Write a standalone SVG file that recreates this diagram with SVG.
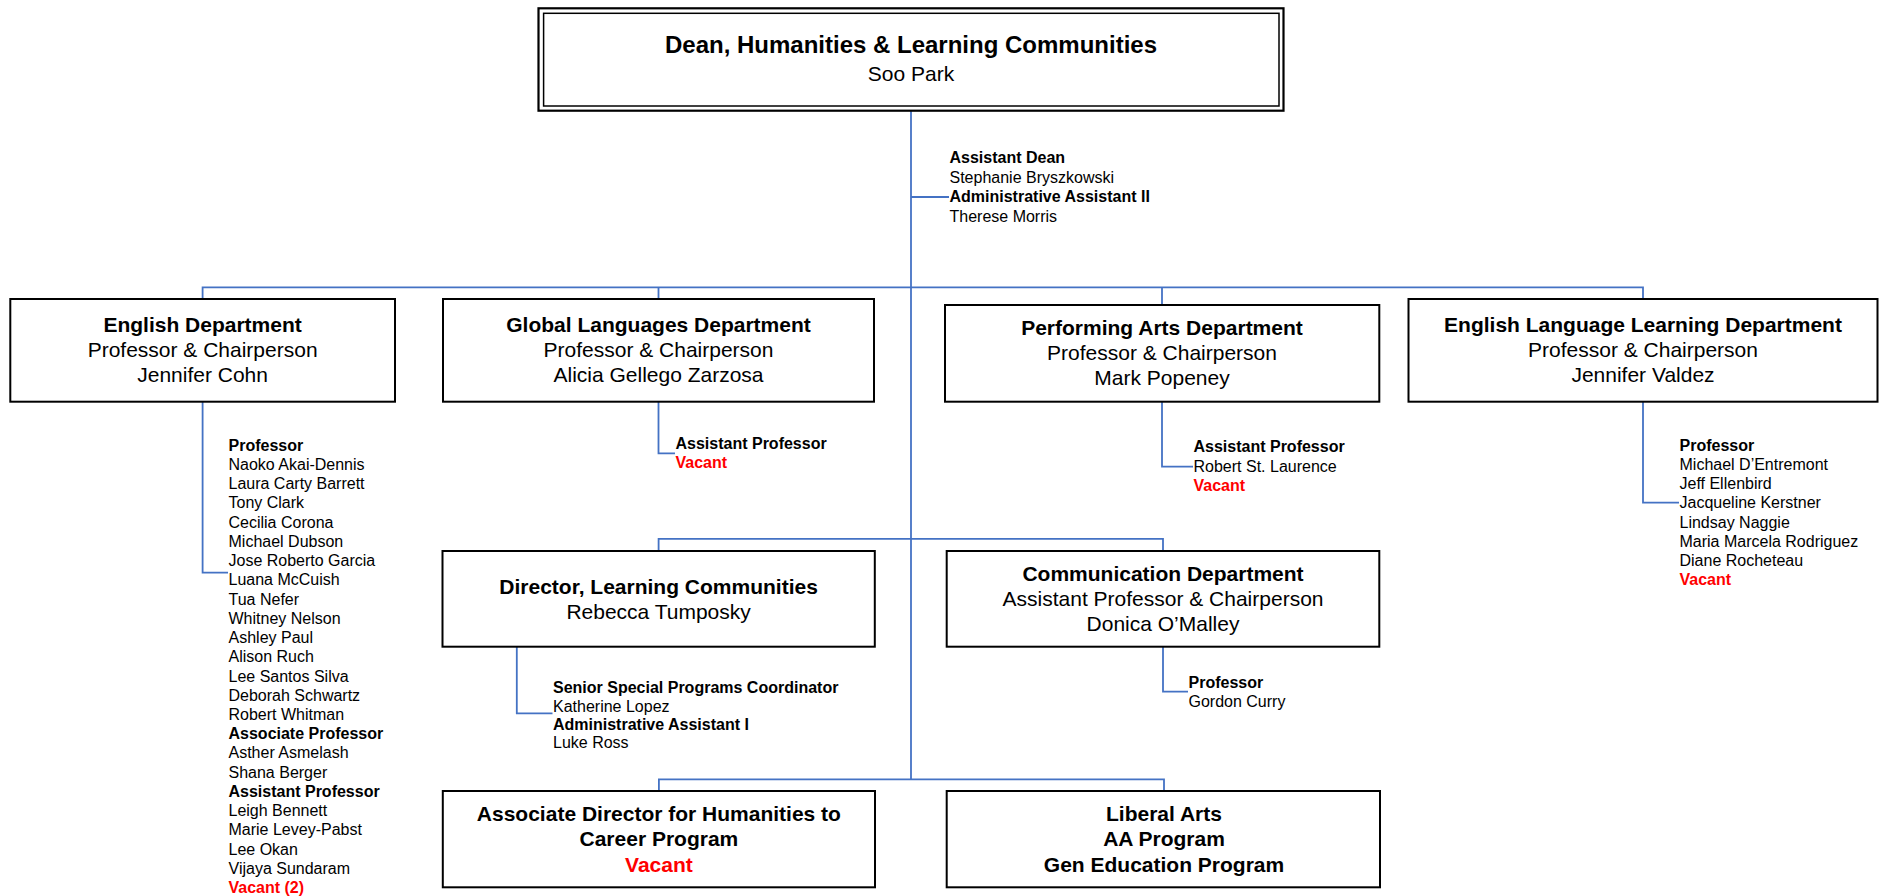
<svg xmlns="http://www.w3.org/2000/svg" width="1881" height="896" viewBox="0 0 1881 896">
<style>
.box{fill:#fff;stroke:#000;stroke-width:2}
.conn{fill:none;stroke:#4472C4;stroke-width:1.8}
text{font-family:"Liberation Sans",Arial,Helvetica,sans-serif;fill:#000}
.c{text-anchor:middle;font-size:21px}
.ct{text-anchor:middle;font-size:24px;font-weight:bold}
.l{font-size:16px}
.b{font-weight:bold}
.r{fill:#f00}
</style>
<rect x="0" y="0" width="1881" height="896" fill="#fff"/>

<g id="connectors">
<path class="conn" d="M911,111 V779.3"/>
<path class="conn" d="M911,197 H949"/>
<path class="conn" d="M202.6,299 V287.3 H1643 V299"/>
<path class="conn" d="M658.5,287.3 V299"/>
<path class="conn" d="M1162,287.3 V305"/>
<path class="conn" d="M202.6,401.7 V572.7 H228"/>
<path class="conn" d="M658.5,401.7 V453.3 H675"/>
<path class="conn" d="M1162,401.7 V466.7 H1193"/>
<path class="conn" d="M1643,401.7 V502.7 H1679"/>
<path class="conn" d="M658.6,551 V538.8 H1163 V551"/>
<path class="conn" d="M516.8,646.7 V713.3 H552.5"/>
<path class="conn" d="M1163,646.7 V691.7 H1188"/>
<path class="conn" d="M658.9,791 V779.3 H1164 V791"/>
</g>

<g id="dean">
<rect x="538.5" y="8.3" width="745" height="102.4" fill="#fff" stroke="#000" stroke-width="2.2"/>
<rect x="543.6" y="13.3" width="735.4" height="92.7" fill="none" stroke="#000" stroke-width="1.5"/>
<text class="ct" x="911" y="53.3">Dean, Humanities &amp; Learning Communities</text>
<text class="c" x="911" y="81">Soo Park</text>
</g>

<g id="dean-staff">
<text class="l b" x="949.5" y="163.2">Assistant Dean</text>
<text class="l" x="949.5" y="182.7">Stephanie Bryszkowski</text>
<text class="l b" x="949.5" y="202.2">Administrative Assistant II</text>
<text class="l" x="949.5" y="221.7">Therese Morris</text>
</g>

<g id="english">
<rect class="box" x="10.3" y="299" width="384.7" height="102.7"/>
<text class="c b" x="202.6" y="331.7">English Department</text>
<text class="c" x="202.6" y="357">Professor &amp; Chairperson</text>
<text class="c" x="202.6" y="381.7">Jennifer Cohn</text>
</g>

<g id="english-staff">
<text class="l b" x="228.5" y="450.7">Professor</text>
<text class="l" x="228.5" y="469.9">Naoko Akai-Dennis</text>
<text class="l" x="228.5" y="489.2">Laura Carty Barrett</text>
<text class="l" x="228.5" y="508.4">Tony Clark</text>
<text class="l" x="228.5" y="527.6">Cecilia Corona</text>
<text class="l" x="228.5" y="546.9">Michael Dubson</text>
<text class="l" x="228.5" y="566.1">Jose Roberto Garcia</text>
<text class="l" x="228.5" y="585.3">Luana McCuish</text>
<text class="l" x="228.5" y="604.5">Tua Nefer</text>
<text class="l" x="228.5" y="623.8">Whitney Nelson</text>
<text class="l" x="228.5" y="643">Ashley Paul</text>
<text class="l" x="228.5" y="662.2">Alison Ruch</text>
<text class="l" x="228.5" y="681.5">Lee Santos Silva</text>
<text class="l" x="228.5" y="700.7">Deborah Schwartz</text>
<text class="l" x="228.5" y="719.9">Robert Whitman</text>
<text class="l b" x="228.5" y="739.2">Associate Professor</text>
<text class="l" x="228.5" y="758.4">Asther Asmelash</text>
<text class="l" x="228.5" y="777.6">Shana Berger</text>
<text class="l b" x="228.5" y="796.8">Assistant Professor</text>
<text class="l" x="228.5" y="816.1">Leigh Bennett</text>
<text class="l" x="228.5" y="835.3">Marie Levey-Pabst</text>
<text class="l" x="228.5" y="854.5">Lee Okan</text>
<text class="l" x="228.5" y="873.8">Vijaya Sundaram</text>
<text class="l b r" x="228.5" y="893">Vacant (2)</text>
</g>

<g id="global">
<rect class="box" x="443" y="299" width="431" height="102.7"/>
<text class="c b" x="658.5" y="331.7">Global Languages Department</text>
<text class="c" x="658.5" y="357">Professor &amp; Chairperson</text>
<text class="c" x="658.5" y="381.7">Alicia Gellego Zarzosa</text>
</g>

<g id="global-staff">
<text class="l b" x="675.5" y="449.3">Assistant Professor</text>
<text class="l b r" x="675.5" y="468.3">Vacant</text>
</g>

<g id="performing">
<rect class="box" x="945" y="305" width="434.3" height="96.7"/>
<text class="c b" x="1162" y="334.8">Performing Arts Department</text>
<text class="c" x="1162" y="359.8">Professor &amp; Chairperson</text>
<text class="c" x="1162" y="384.8">Mark Popeney</text>
</g>

<g id="performing-staff">
<text class="l b" x="1193.5" y="452">Assistant Professor</text>
<text class="l" x="1193.5" y="471.5">Robert St. Laurence</text>
<text class="l b r" x="1193.5" y="491">Vacant</text>
</g>

<g id="ell">
<rect class="box" x="1408.5" y="299" width="469" height="102.7"/>
<text class="c b" x="1643" y="331.7">English Language Learning Department</text>
<text class="c" x="1643" y="357">Professor &amp; Chairperson</text>
<text class="c" x="1643" y="381.7">Jennifer Valdez</text>
</g>

<g id="ell-staff">
<text class="l b" x="1679.5" y="450.7">Professor</text>
<text class="l" x="1679.5" y="469.9">Michael D’Entremont</text>
<text class="l" x="1679.5" y="489.1">Jeff Ellenbird</text>
<text class="l" x="1679.5" y="508.3">Jacqueline Kerstner</text>
<text class="l" x="1679.5" y="527.5">Lindsay Naggie</text>
<text class="l" x="1679.5" y="546.7">Maria Marcela Rodriguez</text>
<text class="l" x="1679.5" y="565.9">Diane Rocheteau</text>
<text class="l b r" x="1679.5" y="585.1">Vacant</text>
</g>

<g id="director">
<rect class="box" x="442.5" y="551" width="432.3" height="95.7"/>
<text class="c b" x="658.6" y="594.3">Director, Learning Communities</text>
<text class="c" x="658.6" y="618.5">Rebecca Tumposky</text>
</g>

<g id="director-staff">
<text class="l b" x="553" y="693.3">Senior Special Programs Coordinator</text>
<text class="l" x="553" y="711.6">Katherine Lopez</text>
<text class="l b" x="553" y="729.9">Administrative Assistant I</text>
<text class="l" x="553" y="748.3">Luke Ross</text>
</g>

<g id="communication">
<rect class="box" x="946.7" y="551" width="432.6" height="95.7"/>
<text class="c b" x="1163" y="580.5">Communication Department</text>
<text class="c" x="1163" y="605.5">Assistant Professor &amp; Chairperson</text>
<text class="c" x="1163" y="630.8">Donica O’Malley</text>
</g>

<g id="communication-staff">
<text class="l b" x="1188.5" y="687.7">Professor</text>
<text class="l" x="1188.5" y="706.7">Gordon Curry</text>
</g>

<g id="associate-director">
<rect class="box" x="442.8" y="791" width="432.2" height="96.3"/>
<text class="c b" x="658.9" y="821">Associate Director for Humanities to</text>
<text class="c b" x="658.9" y="846.3">Career Program</text>
<text class="c b r" x="658.9" y="871.7">Vacant</text>
</g>

<g id="liberal-arts">
<rect class="box" x="946.7" y="791" width="433.3" height="96.3"/>
<text class="c b" x="1164" y="821">Liberal Arts</text>
<text class="c b" x="1164" y="846.3">AA Program</text>
<text class="c b" x="1164" y="871.7">Gen Education Program</text>
</g>
</svg>
